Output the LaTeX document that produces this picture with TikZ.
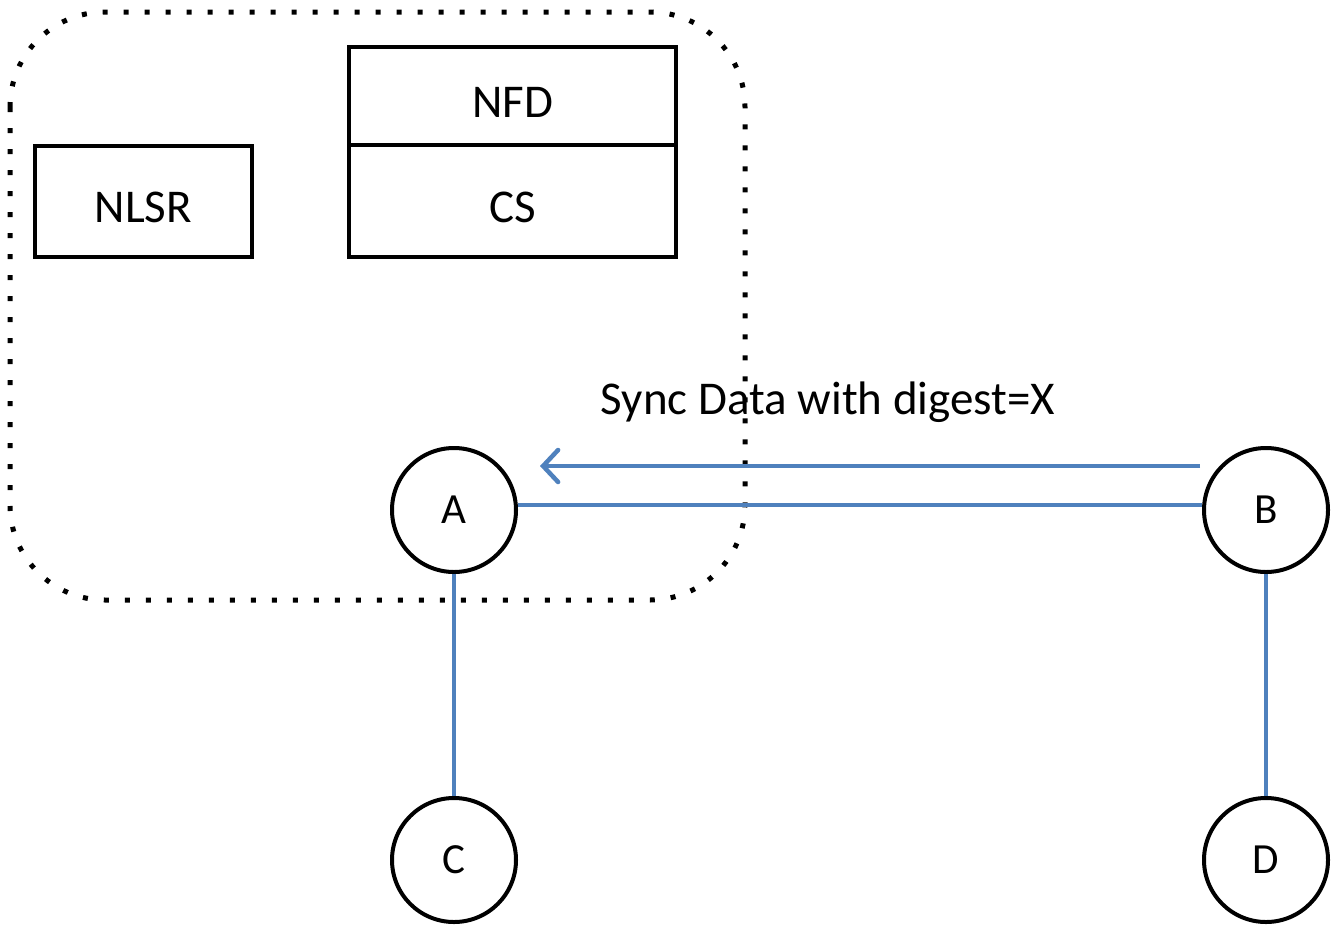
\documentclass[tikz,border=0pt]{standalone}
\usepackage{fontspec}
\setmainfont{Carlito}
\usetikzlibrary{arrows.meta}
\definecolor{linkblue}{RGB}{79,129,189}
\newcommand{\lowtext}[1]{\raisebox{-6pt}[\height][\depth]{#1}}
\begin{document}
\begin{tikzpicture}[x=1pt,y=-1pt,
  box/.style={draw=black,line width=4pt,font=\fontsize{47}{56}\selectfont,inner sep=0pt,outer sep=0pt},
  nodec/.style={circle,draw=black,line width=4pt,minimum size=124pt,inner sep=0pt,font=\fontsize{43}{50}\selectfont},
  link/.style={draw=linkblue,line width=4.5pt}]
\useasboundingbox (0,0) rectangle (1336,930);
\draw[line width=5pt,dash pattern=on 5pt off 16pt,rounded corners=95pt] (10,12) rectangle (745,600);
\node[box,minimum width=217pt,minimum height=111pt] (nlsr) at (143.5,201.5) {\lowtext{NLSR}};
\node[box,minimum width=327pt,minimum height=98pt] (nfd) at (512.5,96) {\lowtext{NFD}};
\node[box,minimum width=327pt,minimum height=112pt,anchor=north] (cs) at (nfd.south) {\lowtext{CS}};
\node[nodec] (A) at (454,510) {A};
\node[nodec] (B) at (1266,510) {B};
\node[nodec] (C) at (454,860) {C};
\node[nodec] (D) at (1266,860) {D};
\coordinate (arrS) at (1200,466);
\coordinate (arrE) at (540,466);
\draw[link] (A.east |- 0,505) -- (B.west |- 0,505);
\draw[link] (A) -- (C);
\draw[link] (B) -- (D);
\draw[link,-{Straight Barb[length=15pt,width=32pt,line cap=round]}] (arrS) -- (arrE);
\node[font=\fontsize{47}{56}\selectfont,anchor=base] (lbl) at (828,414) {Sync Data with digest=X};
\end{tikzpicture}
\end{document}
